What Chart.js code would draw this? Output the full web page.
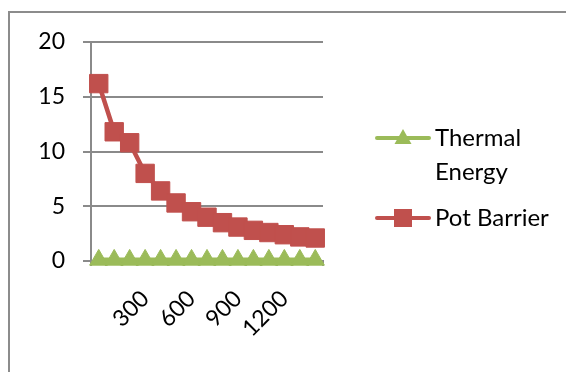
<!DOCTYPE html>
<html>
<head>
<meta charset="utf-8">
<script src="https://cdn.jsdelivr.net/npm/chart.js@4/dist/chart.umd.min.js"></script>
<style>
  html, body { margin: 0; padding: 0; background: #fff; }
  #wrap { position: relative; width: 566px; height: 372px; overflow: hidden; }
  #frame { position: absolute; left: 8px; top: 11px; width: 640px; height: 440px;
           border: 2px solid #8c8c8c; box-sizing: border-box; }
  canvas { position: absolute; left: 0; top: 0; }
</style>
</head>
<body>
<div id="wrap">
  <div id="frame"></div>
  <canvas id="c" width="566" height="372"></canvas>
</div>
<script>
// Temperature categories and the labels printed under the axis
const categories = [0, 100, 200, 300, 400, 500, 600, 700, 800, 900, 1000, 1100, 1200, 1300, 1400];
const shownTicks = [300, 600, 900, 1200];
const yTicks = [0, 5, 10, 15, 20];

// Series values
const thermalEnergy = [0.10, 0.10, 0.10, 0.10, 0.10, 0.10, 0.10, 0.10, 0.10, 0.10, 0.10, 0.10, 0.10, 0.10, 0.10];
const potBarrier = [16.2, 11.8, 10.8, 8.0, 6.4, 5.3, 4.5, 4.0, 3.5, 3.1, 2.8, 2.6, 2.4, 2.2, 2.1];

const FONT = 'Lato, "Open Sans", sans-serif';
const GRID = '#8a8a8a';
const GREEN = '#9BBB59';
const RED = '#C0504D';

// Legend drawn beside the plot, with the first label wrapped onto two lines
const sideLegend = {
  id: 'sideLegend',
  afterDraw(chart) {
    const ctx = chart.ctx;
    const items = [
      { ds: 0, lines: ['Thermal', 'Energy'], y: 138 },
      { ds: 1, lines: ['Pot Barrier'], y: 218 }
    ];
    items.forEach(it => {
      const ds = chart.data.datasets[it.ds];
      ctx.save();
      ctx.strokeStyle = ds.borderColor;
      ctx.lineWidth = 4;
      ctx.lineCap = 'round';
      ctx.beginPath();
      ctx.moveTo(377, it.y);
      ctx.lineTo(429, it.y);
      ctx.stroke();
      const cx = 403;
      ctx.fillStyle = ds.backgroundColor;
      ctx.beginPath();
      if (ds.pointStyle === 'triangle') {
        ctx.moveTo(cx, it.y - 9);
        ctx.lineTo(cx + 8.5, it.y + 6);
        ctx.lineTo(cx - 8.5, it.y + 6);
        ctx.closePath();
      } else {
        ctx.rect(cx - 9, it.y - 9, 18, 18);
      }
      ctx.fill();
      ctx.fillStyle = '#000';
      ctx.font = '24px ' + FONT;
      ctx.textBaseline = 'middle';
      ctx.textAlign = 'left';
      it.lines.forEach((t, i) => ctx.fillText(t, 435, it.y + i * 34));
      ctx.restore();
    });
  }
};

new Chart(document.getElementById('c'), {
  type: 'line',
  data: {
    labels: categories,
    datasets: [
      {
        label: 'Thermal Energy',
        data: thermalEnergy,
        borderColor: GREEN,
        backgroundColor: GREEN,
        borderWidth: 5,
        pointStyle: 'triangle',
        pointRadius: 10.5,
        pointBorderWidth: 1,
        pointBorderColor: GREEN,
        tension: 0,
        clip: false
      },
      {
        label: 'Pot Barrier',
        data: potBarrier,
        borderColor: RED,
        backgroundColor: RED,
        borderWidth: 4.5,
        pointStyle: 'rect',
        pointRadius: 13,
        pointBorderWidth: 1,
        pointBorderColor: RED,
        tension: 0,
        clip: false
      }
    ]
  },
  options: {
    responsive: false,
    animation: false,
    layout: { padding: { top: 42, left: 0, right: 243, bottom: 0 } },
    plugins: { legend: { display: false }, tooltip: { enabled: false } },
    scales: {
      x: {
        offset: true,
        afterFit(s) { s.height = 111; },
        grid: { offset: true, drawOnChartArea: false, drawTicks: true, tickLength: 5, color: GRID, lineWidth: 2 },
        border: { display: true, color: GRID, width: 2 },
        ticks: {
          autoSkip: false,
          minRotation: 45,
          maxRotation: 45,
          padding: 19,
          color: '#000',
          font: { family: FONT, size: 23 },
          callback(v, i) {
            const c = categories[i];
            return shownTicks.includes(c) ? String(c) : '';
          }
        }
      },
      y: {
        min: yTicks[0],
        max: yTicks[yTicks.length - 1],
        afterFit(s) { s.width = 91; },
        afterBuildTicks(s) { s.ticks = yTicks.map(v => ({ value: v })); },
        grid: { color: GRID, lineWidth: 2, tickLength: 8 },
        border: { display: true, color: GRID, width: 2 },
        ticks: {
          padding: 18,
          color: '#000',
          font: { family: FONT, size: 23 }
        }
      }
    }
  },
  plugins: [sideLegend]
});
</script>
</body>
</html>
